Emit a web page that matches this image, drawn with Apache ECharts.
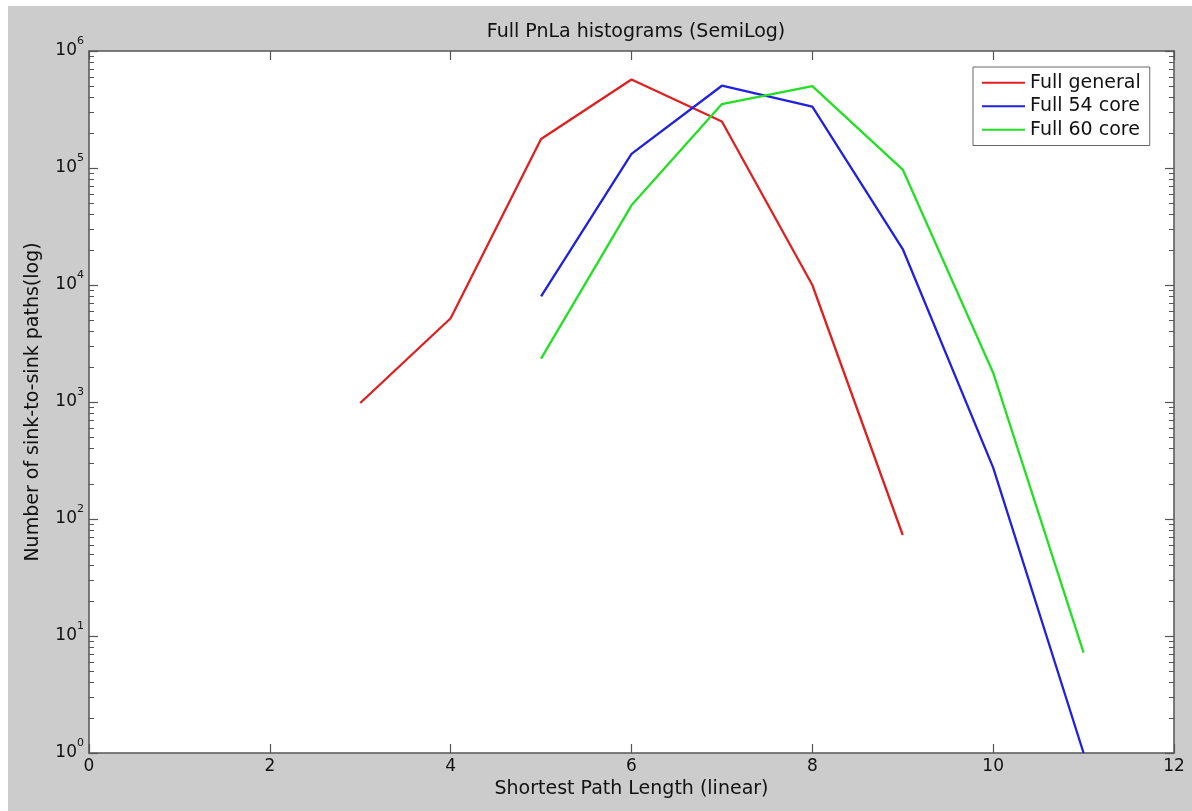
<!DOCTYPE html>
<html>
<head>
<meta charset="utf-8">
<script src="https://cdn.jsdelivr.net/npm/echarts@6/dist/echarts.min.js"></script>
<style>
html,body{margin:0;padding:0;background:#ffffff;width:1192px;height:811px;overflow:hidden;}
#c{position:absolute;left:8px;top:6px;width:1184px;height:805px;}
</style>
</head>
<body>
<div id="c"></div>
<script>
// Data
const seriesNames = ['Full general', 'Full 54 core', 'Full 60 core'];
const generalX = [3, 4, 5, 6, 7, 8, 9];
const generalY = [980, 5200, 177000, 570000, 250000, 10000, 73];
const core54X = [5, 6, 7, 8, 9, 10, 11];
const core54Y = [8000, 132000, 505000, 334000, 20300, 275, 1];
const core60X = [5, 6, 7, 8, 9, 10, 11];
const core60Y = [2350, 48000, 352000, 500000, 97000, 1780, 7.2];
const xTicks = [0, 2, 4, 6, 8, 10, 12];
const yTickExponents = [0, 1, 2, 3, 4, 5, 6];

function pairs(xs, ys) { return xs.map((x, i) => [x, ys[i]]); }

const FONT = 'DejaVu Sans';
const axisColor = '#555555';
const textColor = '#111111';

const chart = echarts.init(document.getElementById('c'), null, {renderer: 'canvas'});

const xBase = {
  type: 'value', min: xTicks[0], max: xTicks[xTicks.length - 1], interval: 2,
  axisLine: {show: true, onZero: false, lineStyle: {color: axisColor, width: 1.5}},
  axisTick: {show: true, inside: true, length: 9, lineStyle: {color: axisColor, width: 1.2}},
  splitLine: {show: false}
};
const yBase = {
  type: 'log', logBase: 10, min: Math.pow(10, yTickExponents[0]), max: Math.pow(10, yTickExponents[yTickExponents.length - 1]),
  interval: 1,
  axisLine: {show: true, onZero: false, lineStyle: {color: axisColor, width: 1.5}},
  axisTick: {show: true, inside: true, length: 9, lineStyle: {color: axisColor, width: 1.2}},
  minorTick: {show: true, splitNumber: 9, length: 5, lineStyle: {color: axisColor, width: 1}},
  splitLine: {show: false}, minorSplitLine: {show: false}
};

const colors = ['#e02020', '#2020e0', '#22e022'];

chart.setOption({
  backgroundColor: '#cccccc',
  animation: false,
  title: {
    text: 'Full PnLa histograms (SemiLog)',
    left: 623, top: 12, textAlign: 'center',
    textStyle: {fontFamily: FONT, fontSize: 19, fontWeight: 'normal', color: textColor}
  },
  grid: {left: 81, top: 45, right: 18, bottom: 58, show: true, backgroundColor: '#ffffff', borderWidth: 0},
  legend: {
    data: seriesNames,
    orient: 'vertical', left: 965, top: 61,
    padding: [4, 9, 4, 9], itemGap: 0,
    itemWidth: 43, itemHeight: 2, icon: 'rect',
    backgroundColor: '#ffffff', borderColor: '#666666', borderWidth: 1, borderRadius: 0,
    textStyle: {fontFamily: FONT, fontSize: 19, color: textColor, lineHeight: 23.5}
  },
  xAxis: [
    Object.assign({}, xBase, {
      position: 'bottom',
      name: 'Shortest Path Length (linear)', nameLocation: 'middle', nameGap: 24,
      nameTextStyle: {fontFamily: FONT, fontSize: 19, color: textColor},
      axisLabel: {show: true, margin: 5, fontFamily: FONT, fontSize: 17, color: textColor}
    }),
    Object.assign({}, xBase, {position: 'top', axisLabel: {show: false}})
  ],
  yAxis: [
    Object.assign({}, yBase, {
      position: 'left',
      name: 'Number of sink-to-sink paths(log)', nameLocation: 'middle', nameGap: 46,
      nameTextStyle: {fontFamily: FONT, fontSize: 19, color: textColor},
      axisLabel: {
        show: true, margin: 5,
        formatter: function (v) { return '{b|10}{s|' + Math.round(Math.log10(v)) + '}'; },
        rich: {
          b: {fontFamily: FONT, fontSize: 17, color: textColor, lineHeight: 30, verticalAlign: 'middle'},
          s: {fontFamily: FONT, fontSize: 11, color: textColor, lineHeight: 30, verticalAlign: 'top'}
        }
      }
    }),
    Object.assign({}, yBase, {position: 'right', axisLabel: {show: false}})
  ],
  series: [
    {name: seriesNames[0], type: 'line', data: pairs(generalX, generalY), symbol: 'none',
     lineStyle: {color: colors[0], width: 2.3}, itemStyle: {color: colors[0]}},
    {name: seriesNames[1], type: 'line', data: pairs(core54X, core54Y), symbol: 'none',
     lineStyle: {color: colors[1], width: 2.3}, itemStyle: {color: colors[1]}},
    {name: seriesNames[2], type: 'line', data: pairs(core60X, core60Y), symbol: 'none',
     lineStyle: {color: colors[2], width: 2.3}, itemStyle: {color: colors[2]}}
  ]
});
</script>
</body>
</html>
